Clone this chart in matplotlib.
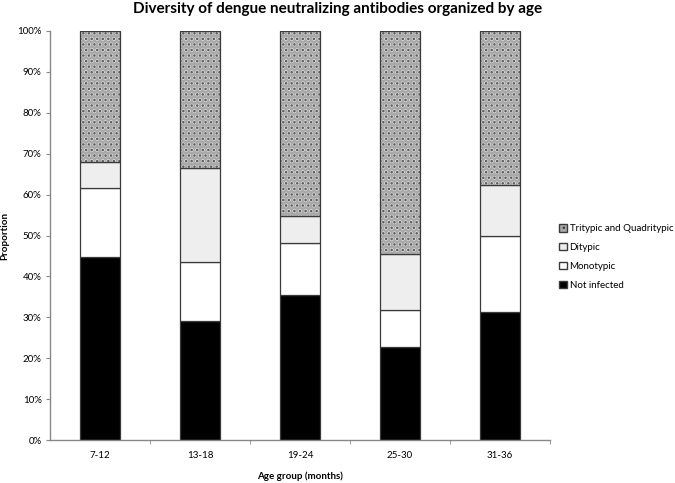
import matplotlib
matplotlib.use("Agg")
import matplotlib.pyplot as plt
from matplotlib.patches import Patch
import numpy as np

plt.rcParams['font.family'] = ['Lato', 'DejaVu Sans']
plt.rcParams['hatch.linewidth'] = 1.0

categories = ["7-12", "13-18", "19-24", "25-30", "31-36"]
not_infected = [44.7, 29.1, 35.4, 22.7, 31.2]
monotypic = [17.0, 14.5, 12.8, 9.0, 18.7]
ditypic = [6.3, 23.0, 6.6, 13.7, 12.5]
tri_quad = [32.0, 33.4, 45.2, 54.6, 37.6]
yticks = [0, 10, 20, 30, 40, 50, 60, 70, 80, 90, 100]

fig = plt.figure(figsize=(6.75, 4.83), dpi=100)
ax = fig.add_axes([50/675, 1-440/483, 500/675, 409/483])

x = np.arange(len(categories))
w = 0.4
edge = '#3a3a3a'
ax.bar(x, not_infected, w, color='black', edgecolor=edge, linewidth=0.9, zorder=2)
bot = np.array(not_infected)
ax.bar(x, monotypic, w, bottom=bot, color='white', edgecolor=edge, linewidth=0.9, zorder=2)
bot = bot + np.array(monotypic)
ax.bar(x, ditypic, w, bottom=bot, color='#eeeeee', edgecolor=edge, linewidth=0.9, zorder=2)
bot = bot + np.array(ditypic)
ax.bar(x, tri_quad, w, bottom=bot, color='#a9a9a9', edgecolor='#d8d8d8', hatch='ooo', linewidth=0, zorder=2)
ax.bar(x, tri_quad, w, bottom=bot, color='none', edgecolor='#606060', hatch='...', linewidth=0, zorder=2.5)
ax.bar(x, tri_quad, w, bottom=bot, color='none', edgecolor=edge, linewidth=0.9, zorder=3)

ax.set_xlim(-0.5, len(categories) - 0.5)
ax.set_ylim(0, 100)
ax.set_yticks(yticks)
ax.set_yticklabels([f"{v}%" for v in yticks], fontsize=7)
ax.set_xticks(x)
ax.set_xticklabels(categories, fontsize=7)
ax.tick_params(axis='x', length=0, pad=8)
ax.set_xticks(np.arange(len(categories)) + 0.5, minor=True)
ax.tick_params(axis='x', which='minor', length=3, color='#888888')
ax.tick_params(axis='y', length=3, color='#888888', pad=3)

for s in ['top', 'right']:
    ax.spines[s].set_visible(False)
for s in ['left', 'bottom']:
    ax.spines[s].set_color('#888888')
    ax.spines[s].set_linewidth(1.0)

ax.set_ylabel("Proportion", fontsize=7, fontweight='bold', labelpad=6)
ax.set_xlabel("Age group (months)", fontsize=7, fontweight='bold', labelpad=8)
fig.suptitle("Diversity of dengue neutralizing antibodies organized by age",
             fontsize=11, fontweight='bold', y=0.995, x=0.5)

handles = [
    Patch(facecolor='#a9a9a9', edgecolor='#3a3a3a', hatch='...', label='Tritypic and Quadritypic'),
    Patch(facecolor='#eeeeee', edgecolor='#3a3a3a', label='Ditypic'),
    Patch(facecolor='white', edgecolor='#3a3a3a', label='Monotypic'),
    Patch(facecolor='black', edgecolor='#3a3a3a', label='Not infected'),
]
fig.legend(handles=handles, loc='center left', bbox_to_anchor=(555/675, 1-257/483),
           frameon=False, fontsize=7, handlelength=0.8, handleheight=0.8,
           handletextpad=0.3, labelspacing=1.0, borderaxespad=0)

fig.savefig("out.png", dpi=100)
